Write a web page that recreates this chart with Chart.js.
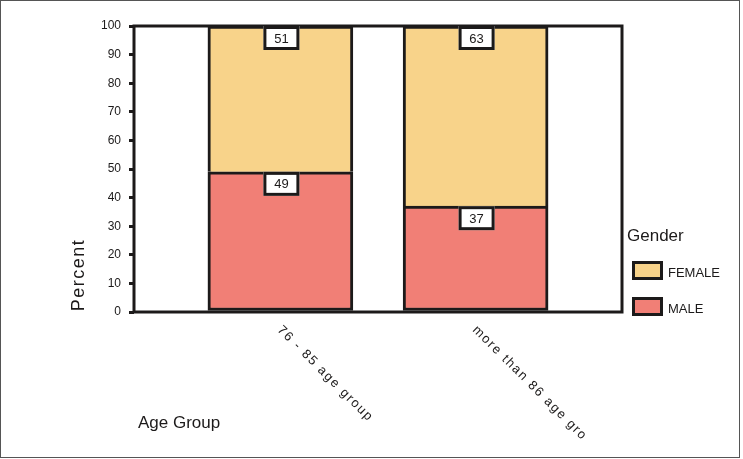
<!DOCTYPE html>
<html><head><meta charset="utf-8">
<script src="https://cdn.jsdelivr.net/npm/chart.js@4"></script>
<style>html,body{margin:0;padding:0;background:#fff}canvas{display:block}</style>
</head><body>
<canvas id="c" width="743" height="459"></canvas>
<script>
// ---- data ----
const categories = ['76 - 85 age group', 'more than 86 age gro'];
const maleValues = [49, 37];
const femaleValues = [51, 63];
const seriesNames = ['MALE', 'FEMALE'];
const yTickValues = [0, 10, 20, 30, 40, 50, 60, 70, 80, 90, 100];
const xTitle = 'Age Group';
const yTitle = 'Percent';
const legendTitle = 'Gender';

// ---- styles ----
const INK = '#1c1a1a';
const MALE_COLOR = '#F17F76';
const FEMALE_COLOR = '#F8D38A';
const FONT = '"Liberation Sans", Arial, Helvetica, sans-serif';
Chart.defaults.font.family = FONT;
Chart.defaults.color = INK;

const toPoints = vals => vals.map((v, i) => ({ x: i, y: v }));

const deco = {
  id: 'deco',
  afterDatasetsDraw(chart) {
    const { ctx, chartArea: a } = chart;
    ctx.save();
    ctx.strokeStyle = INK;
    ctx.lineWidth = 3;
    ctx.strokeRect(a.left, a.top, a.right - a.left, a.bottom - a.top);
    // value boxes
    chart.data.datasets.forEach((ds, di) => {
      const meta = chart.getDatasetMeta(di);
      meta.data.forEach((bar, i) => {
        const top = bar.y;
        const cx = bar.x + 1;
        const w = 36, h = 24;
        ctx.fillStyle = '#fff';
        ctx.fillRect(cx - w / 2, top, w, h);
        ctx.lineWidth = 3;
        ctx.strokeStyle = INK;
        ctx.strokeRect(cx - w / 2 + 1.5, top + 1.5, w - 3, h - 3);
        ctx.fillStyle = INK;
        ctx.font = '13px ' + FONT;
        ctx.textAlign = 'center';
        ctx.textBaseline = 'middle';
        ctx.fillText(String(ds.data[i].y), cx, top + h / 2 + 1);
      });
    });
    ctx.restore();
  },
  afterDraw(chart) {
    const { ctx, scales: { x } } = chart;
    ctx.save();
    ctx.fillStyle = INK;
    // category labels, rotated downward
    ctx.font = '13px ' + FONT;
    ctx.letterSpacing = '1.6px';
    categories.forEach((c, i) => {
      const px = x.getPixelForValue(i);
      ctx.save();
      ctx.translate(px - 1, 328);
      ctx.rotate(Math.PI / 4);
      ctx.textAlign = 'left';
      ctx.textBaseline = 'middle';
      ctx.fillText(c, 0, 0);
      ctx.restore();
    });
    // y title
    ctx.save();
    ctx.font = '18px ' + FONT;
    ctx.letterSpacing = '1.5px';
    ctx.translate(79, 275);
    ctx.rotate(-Math.PI / 2);
    ctx.textAlign = 'center';
    ctx.textBaseline = 'middle';
    ctx.fillText(yTitle, 0, 0);
    ctx.restore();
    ctx.letterSpacing = '0px';
    // x title
    ctx.font = '17px ' + FONT;
    ctx.textAlign = 'left';
    ctx.textBaseline = 'alphabetic';
    ctx.fillText(xTitle, 138, 428);
    // legend
    ctx.fillText(legendTitle, 627, 241);
    const items = chart.data.datasets.slice().reverse();
    items.forEach((ds, k) => {
      const by = 261 + k * 36;
      ctx.fillStyle = ds.backgroundColor;
      ctx.fillRect(632, by, 31, 19);
      ctx.strokeStyle = INK;
      ctx.lineWidth = 3;
      ctx.strokeRect(633.5, by + 1.5, 28, 16);
      ctx.fillStyle = INK;
      ctx.font = '13px ' + FONT;
      ctx.textBaseline = 'middle';
      ctx.fillText(ds.label, 668, by + 12);
    });
    // outer frame
    ctx.strokeStyle = '#555';
    ctx.lineWidth = 1;
    ctx.strokeRect(0.5, 0.5, 739, 457);
    ctx.restore();
  }
};

new Chart(document.getElementById('c'), {
  type: 'bar',
  data: {
    datasets: [
      { label: seriesNames[0], data: toPoints(maleValues), backgroundColor: MALE_COLOR,
        borderColor: INK, borderWidth: 3, borderSkipped: false, barThickness: 145 },
      { label: seriesNames[1], data: toPoints(femaleValues), backgroundColor: FEMALE_COLOR,
        borderColor: INK, borderWidth: 3, borderSkipped: 'bottom', barThickness: 145 }
    ]
  },
  options: {
    responsive: false,
    animation: false,
    devicePixelRatio: 1,
    layout: { padding: { top: 26, right: 121, bottom: 0, left: 0 } },
    plugins: { legend: { display: false }, tooltip: { enabled: false } },
    scales: {
      x: {
        type: 'linear', stacked: true, min: -0.75, max: 1.75, offset: false,
        afterBuildTicks: s => { s.ticks = categories.map((c, i) => ({ value: i })); },
        ticks: { display: false },
        grid: { display: false },
        border: { display: false },
        afterFit: s => { s.height = 147; }
      },
      y: {
        stacked: true, min: 0, max: 100,
        afterBuildTicks: s => { s.ticks = yTickValues.map(v => ({ value: v })); },
        ticks: { padding: 8, color: INK, font: { size: 12 } },
        grid: { drawOnChartArea: false, drawTicks: true, tickLength: 5, lineWidth: 3, color: INK },
        border: { display: false },
        afterFit: s => { s.width = 134; }
      }
    }
  },
  plugins: [deco]
});
</script>
</body></html>
